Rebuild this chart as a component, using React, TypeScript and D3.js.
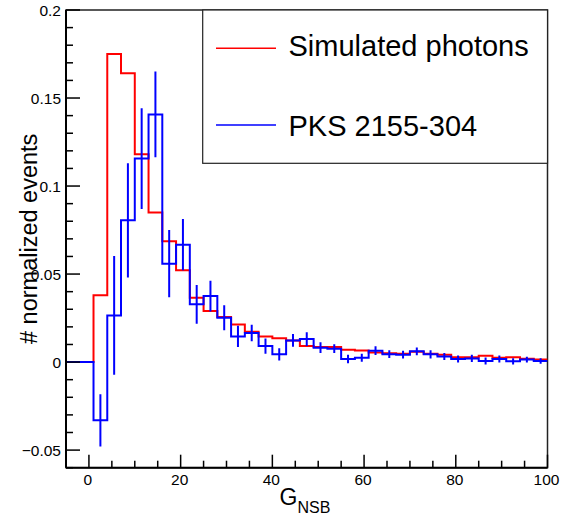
import React from "react";
import * as d3 from "d3";

// bin edges: 35 bins of width 3 from -5 to 100
const binLow = -5;
const binWidth = 3;

const simulated = [
  0, 0, 0.038, 0.175, 0.164, 0.118, 0.085, 0.0686, 0.0521, 0.0366, 0.029,
  0.0256, 0.0214, 0.0172, 0.0146, 0.0135, 0.0123, 0.0091, 0.0085, 0.0085,
  0.007, 0.0066, 0.0055, 0.005, 0.0048, 0.0058, 0.0048, 0.0042, 0.0027,
  0.0028, 0.0036, 0.0025, 0.0027, 0.0019, 0.0015,
];

const pks = [
  0, 0, -0.0331, 0.0265, 0.0805, 0.1156, 0.1407, 0.0559, 0.0667, 0.0328,
  0.0375, 0.0252, 0.0146, 0.0165, 0.0091, 0.0044, 0.0123, 0.0131, 0.0082,
  0.0076, 0.0017, 0.0025, 0.0065, 0.0045, 0.0042, 0.0061, 0.0044, 0.0032,
  0.0017, 0.0021, 0.0006, 0.0017, 0.0004, 0.0014, 0.0006,
];

const pksErr = [
  0, 0, 0.0148, 0.0337, 0.0324, 0.0286, 0.0243, 0.0191, 0.0146, 0.011,
  0.0087, 0.0071, 0.006, 0.0047, 0.0043, 0.0035, 0.0036, 0.0039, 0.003,
  0.0025, 0.0024, 0.0023, 0.0025, 0.0022, 0.0022, 0.0022, 0.0023, 0.002,
  0.002, 0.002, 0.002, 0.002, 0.0018, 0.0016, 0.0016,
];

const xMajorTicks = [0, 20, 40, 60, 80, 100];
const yMajorTicks = [-0.05, 0, 0.05, 0.1, 0.15, 0.2];
const yTickLabels = ["\u22120.05", "0", "0.05", "0.1", "0.15", "0.2"];
const legendLabels = ["Simulated photons", "PKS 2155-304"];

const W = 561;
const H = 517;
const FONT = "'Liberation Sans', Arial, Helvetica, sans-serif";

export default function App() {
  const left = 66;
  const right = 547.5;
  const top = 10;
  const bottom = 467.7;

  const x = d3.scaleLinear().domain([-5, 100]).range([left, right]);
  const y = d3.scaleLinear().domain([-0.06, 0.2]).range([bottom, top]);

  const edges = d3.range(simulated.length + 1).map((i) => binLow + i * binWidth);

  const stepPts = (vals: number[]) => {
    const pts: [number, number][] = vals.map((v, i) => [edges[i], v]);
    pts.push([edges[vals.length], vals[vals.length - 1]]);
    return pts;
  };
  const line = d3
    .line<[number, number]>()
    .x((d) => x(d[0]))
    .y((d) => y(d[1]))
    .curve(d3.curveStepAfter);

  const xMinor = d3.range(5, 100, 5).filter((v) => v % 20 !== 0);
  const yMinor = d3
    .range(-6, 21)
    .map((k) => k / 100)
    .filter((v) => Math.abs(Math.round(v * 100) % 5) !== 0);

  return (
    <svg
      width={W}
      height={H}
      style={{ position: "absolute", left: 0, top: 0, background: "#fff" }}
      fontFamily={FONT}
    >
      <rect x={0} y={0} width={W} height={H} fill="#fff" />
      <defs>
        <clipPath id="frameClip">
          <rect x={left} y={top} width={right - left} height={bottom - top} />
        </clipPath>
      </defs>

      {/* frame */}
      <rect
        x={left}
        y={top}
        width={right - left}
        height={bottom - top}
        fill="none"
        stroke="#222"
        strokeWidth={1.5}
      />

      <g clipPath="url(#frameClip)">
        <path d={line(stepPts(simulated)) || ""} fill="none" stroke="#ff0000" strokeWidth={2} />
        <path d={line(stepPts(pks)) || ""} fill="none" stroke="#0000ff" strokeWidth={2} />
        {pks.map((v, i) =>
          pksErr[i] > 0 ? (
            <line
              key={i}
              x1={x(edges[i] + binWidth / 2)}
              x2={x(edges[i] + binWidth / 2)}
              y1={y(v - pksErr[i])}
              y2={y(v + pksErr[i])}
              stroke="#0000ff"
              strokeWidth={2}
            />
          ) : null
        )}
      </g>

      {/* axes lines */}
      <line x1={left} x2={left} y1={top} y2={bottom} stroke="#000" strokeWidth={2} />
      <line x1={left} x2={right} y1={bottom} y2={bottom} stroke="#000" strokeWidth={2} />

      {/* x ticks */}
      {xMajorTicks.map((t) => (
        <g key={"xm" + t}>
          <line x1={x(t)} x2={x(t)} y1={bottom} y2={bottom - 13} stroke="#000" strokeWidth={1.5} />
          <text x={x(t) - 1} y={484.5} fontSize={15.5} textAnchor="middle" fill="#000">
            {t}
          </text>
        </g>
      ))}
      {xMinor.map((t) => (
        <line key={"xn" + t} x1={x(t)} x2={x(t)} y1={bottom} y2={bottom - 7} stroke="#000" strokeWidth={1.5} />
      ))}

      {/* y ticks */}
      {yMajorTicks.map((t, i) => (
        <g key={"ym" + t}>
          <line x1={left} x2={left + 14} y1={y(t)} y2={y(t)} stroke="#000" strokeWidth={1.5} />
          <text x={61} y={y(t) + 5.5} fontSize={15.5} textAnchor="end" fill="#000">
            {yTickLabels[i]}
          </text>
        </g>
      ))}
      {yMinor.map((t) => (
        <line key={"yn" + t} x1={left} x2={left + 7} y1={y(t)} y2={y(t)} stroke="#000" strokeWidth={1.5} />
      ))}

      {/* axis titles */}
      <text x={305} y={505} fontSize={23} textAnchor="middle" fill="#000">
        G
        <tspan fontSize={16} dy={8}>
          NSB
        </tspan>
      </text>
      <text
        transform={`translate(37, ${(top + bottom) / 2}) rotate(-90)`}
        fontSize={23.5}
        textAnchor="middle"
        fill="#000"
      >
        # normalized events
      </text>

      {/* legend */}
      <rect x={202.7} y={top} width={right - 202.7} height={163.3 - top} fill="#fff" stroke="#222" strokeWidth={1.2} />
      <line x1={216} x2={276} y1={48.3} y2={48.3} stroke="#ff0000" strokeWidth={1.5} />
      <line x1={216} x2={276} y1={125} y2={125} stroke="#0000ff" strokeWidth={1.5} />
      <text x={288.5} y={56} fontSize={29} fill="#000">
        {legendLabels[0]}
      </text>
      <text x={288.5} y={136} fontSize={29} fill="#000">
        {legendLabels[1]}
      </text>
    </svg>
  );
}
